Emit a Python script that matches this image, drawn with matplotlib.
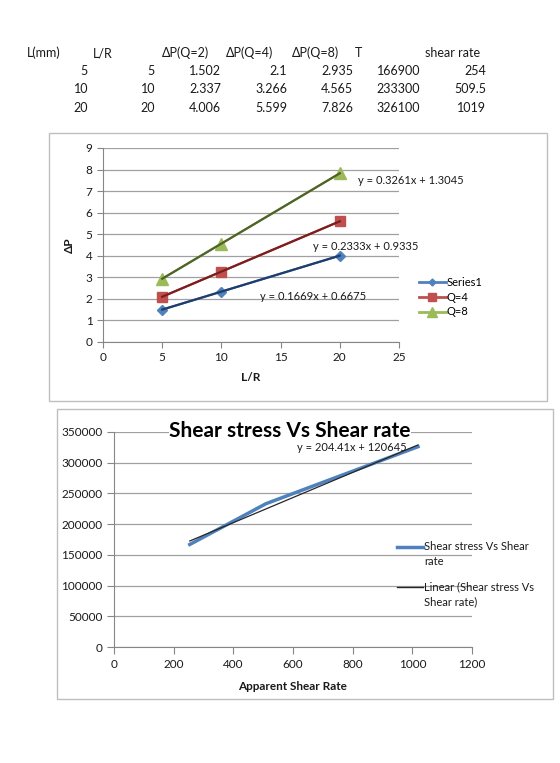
import numpy as np
import matplotlib.pyplot as plt
from matplotlib.patches import Rectangle
from matplotlib.lines import Line2D

plt.rcParams['font.family'] = ['Lato', 'DejaVu Sans']

# --- data ---
headers = ["L(mm)", "L/R", "ΔP(Q=2)", "ΔP(Q=4)", "ΔP(Q=8)", "T", "shear rate"]
L_mm = [5, 10, 20]
L_R = [5, 10, 20]
dp_q2 = [1.502, 2.337, 4.006]
dp_q4 = [2.1, 3.266, 5.599]
dp_q8 = [2.935, 4.565, 7.826]
shear_stress = [166900, 233300, 326100]
shear_rate = [254, 509.5, 1019]

series_names = ["Series1", "Q=4", "Q=8"]
eq_labels = ["y = 0.1669x + 0.6675", "y = 0.2333x + 0.9335", "y = 0.3261x + 1.3045"]
eq_label2 = "y = 204.41x + 120645"

W, H = 560, 763
fig = plt.figure(figsize=(W / 100, H / 100), dpi=100)


def fx(x):
    return x / W


def fy(y):
    return 1 - y / H


def px_axes(left, top, right, bottom):
    return fig.add_axes([fx(left), fy(bottom), (right - left) / W, (bottom - top) / H])


TXT = '#1a1a1a'

# --- spreadsheet table ---
head_x = [27, 93, 162, 226, 292, 355, 425]
val_right = [88, 155, 221, 287, 353, 420, 486]
row_y = [71, 89, 108]
for h, x in zip(headers, head_x):
    fig.text(fx(x), fy(53), h, ha='left', va='center', fontsize=9, color=TXT)
cols = [L_mm, L_R, dp_q2, dp_q4, dp_q8, shear_stress, shear_rate]
for col, x in zip(cols, val_right):
    for v, y in zip(col, row_y):
        fig.text(fx(x), fy(y), str(v), ha='right', va='center', fontsize=9, color=TXT)

# --- chart borders ---
for (l, t, r, b) in [(49, 133, 547, 401), (57, 409, 553, 699)]:
    fig.add_artist(Rectangle((fx(l), fy(b)), (r - l) / W, (b - t) / H,
                             transform=fig.transFigure, fill=False,
                             edgecolor='#BFBFBF', lw=1.0))

# --- chart 1: dP vs L/R ---
ax1 = px_axes(103, 148, 399, 342)
ax1.set_xlim(0, 25)
ax1.set_ylim(0, 9)
ax1.set_xticks(range(0, 26, 5))
ax1.set_yticks(range(0, 10))
ax1.grid(axis='y', color='#A0A0A0', lw=0.9)
ax1.set_axisbelow(True)
for s in ['top', 'right']:
    ax1.spines[s].set_visible(False)
for s in ['left', 'bottom']:
    ax1.spines[s].set_color('#868686')
ax1.tick_params(colors='#868686', labelcolor=TXT, labelsize=8.5, length=4, direction='out')
ax1.set_xlabel("L/R", fontsize=8.5, fontweight='bold', color=TXT, labelpad=6)
ax1.set_ylabel("ΔP", fontsize=8.5, fontweight='bold', color=TXT, labelpad=8)

colors = ['#4F81BD', '#C0504D', '#9BBB59']
dark = ['#1F3D6B', '#7B1E1E', '#4F6228']
markers = ['D', 's', '^']
msizes = [5, 7, 8]
handles = []
for ys, c, dc, m, ms in zip([dp_q2, dp_q4, dp_q8], colors, dark, markers, msizes):
    ax1.plot(L_R, ys, color=c, lw=1.5, marker=m, ms=ms, zorder=3)
    k, b0 = np.polyfit(L_R, ys, 1)
    xs = np.array([min(L_R), max(L_R)])
    ax1.plot(xs, k * xs + b0, color=dc, lw=1.6, zorder=4)
    handles.append(Line2D([], [], color=c, lw=2, marker=m, ms=ms - 1.5))

ax1.text(21.5, 7.5, eq_labels[2], fontsize=8, color=TXT, ha='left', va='center')
ax1.text(17.7, 4.45, eq_labels[1], fontsize=8, color=TXT, ha='left', va='center')
ax1.text(13.3, 2.13, eq_labels[0], fontsize=8, color=TXT, ha='left', va='center')

ax1.legend(handles, series_names, loc='center left',
           bbox_to_anchor=(fx(419), fy(297)), bbox_transform=fig.transFigure,
           frameon=False, fontsize=8, handlelength=2.4, handletextpad=0.1,
           labelspacing=0.35, borderpad=0, borderaxespad=0)

# --- chart 2: shear stress vs shear rate ---
ax2 = px_axes(114, 432, 472, 647)
ax2.set_xlim(0, 1200)
ax2.set_ylim(0, 350000)
ax2.set_xticks(range(0, 1201, 200))
ax2.set_yticks(range(0, 350001, 50000))
ax2.grid(axis='y', color='#A0A0A0', lw=0.9)
ax2.set_axisbelow(True)
for s in ['top', 'right']:
    ax2.spines[s].set_visible(False)
for s in ['left', 'bottom']:
    ax2.spines[s].set_color('#868686')
ax2.tick_params(colors='#868686', labelcolor=TXT, labelsize=8.5, length=5, direction='out')
ax2.set_xlabel("Apparent Shear Rate", fontsize=8.5, fontweight='bold', color=TXT, labelpad=8)

ax2.plot(shear_rate, shear_stress, color='#4F81BD', lw=2.5, zorder=3)
k2, b2 = np.polyfit(shear_rate, shear_stress, 1)
xs2 = np.array([min(shear_rate), max(shear_rate)])
ax2.plot(xs2, k2 * xs2 + b2, color='#262626', lw=0.9, zorder=4)
ax2.text(615, 324000, eq_label2, fontsize=8, color=TXT, ha='left', va='center')

fig.text(fx(290), fy(431), "Shear stress Vs Shear rate", ha='center', va='center',
         fontsize=15, fontweight='bold', color='black',
         bbox=dict(facecolor='white', edgecolor='none', pad=0.5))

# legend of chart 2, drawn by hand so the line sits on the first text line
leg2 = [("Shear stress Vs Shear\nrate", '#4F81BD', 2.5, 547),
        ("Linear (Shear stress Vs\nShear rate)", '#262626', 1.0, 587)]
for label, c, lw, y in leg2:
    fig.add_artist(Line2D([fx(397), fx(423)], [fy(y), fy(y)], color=c, lw=lw,
                          transform=fig.transFigure))
    fig.text(fx(424), fy(y - 6), label, ha='left', va='top', fontsize=8,
             color=TXT, linespacing=1.45)

fig.savefig("out.png", dpi=100)
